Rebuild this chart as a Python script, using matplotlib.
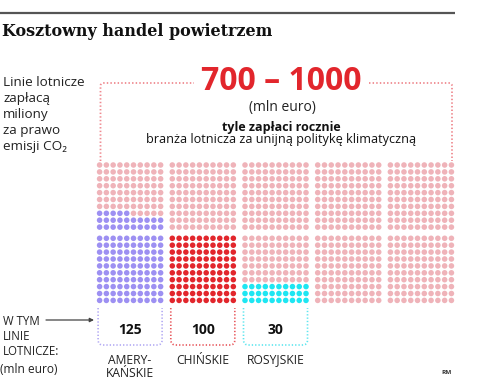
import matplotlib
matplotlib.use("Agg")
import matplotlib.pyplot as plt
from matplotlib.path import Path
from matplotlib.patches import PathPatch
import numpy as np

# ---------------- data ----------------
title = "Kosztowny handel powietrzem"
range_low, range_high = 700, 1000
total_dots = 1000                       # 1 dot = 1 mln euro
categories = ["AMERY-\nKAŃSKIE", "CHIŃSKIE", "ROSYJSKIE"]
values = [125, 100, 30]
cat_colors = ["#9d90f2", "#e2262c", "#1ee6f2"]
box_colors = ["#b3aaf3", "#e8585d", "#5fe6ef"]
base_color = "#efb3b9"

plt.rcParams['font.family'] = ['Open Sans', 'DejaVu Sans']

fig = plt.figure(figsize=(4.88, 3.80), dpi=100)
ax = fig.add_axes([0, 0, 1, 1])
ax.set_xlim(0, 488)
ax.set_ylim(380, 0)
ax.axis('off')

# ---------------- waffle grid ----------------
n_block_cols, n_block_rows, side = 5, 2, 10
x0, y0 = 99.6, 165.0
bpx, bpy = 72.7, 73.3
dpx, dpy = 6.78, 6.9

xs, ys, cs = [], [], []
for b in range(n_block_cols):
    # fill order: bottom block first, bottom row upwards, left to right
    filled = values[b] if b < len(values) else 0
    color = cat_colors[b] if b < len(values) else base_color
    k = 0
    for r in [1, 0]:
        for d in range(side - 1, -1, -1):
            for c in range(side):
                xs.append(x0 + b * bpx + c * dpx)
                ys.append(y0 + r * bpy + d * dpy)
                cs.append(color if k < filled else base_color)
                k += 1
ax.scatter(xs, ys, s=16, c=cs, linewidths=0, zorder=3)

# ---------------- dotted bracket at top ----------------
br_col = "#ef8a90"
ls_dot = (0, (0.8, 1.2))
rr = 3
left_x, right_x, top_y, bot_y = 100.5, 452.0, 83, 161
verts = [(left_x, bot_y), (left_x, top_y + rr), (left_x, top_y), (left_x + rr, top_y), (194, top_y)]
codes = [Path.MOVETO, Path.LINETO, Path.CURVE3, Path.CURVE3, Path.LINETO]
ax.add_patch(PathPatch(Path(verts, codes), fill=False, edgecolor=br_col, lw=1.3, linestyle=ls_dot))
verts = [(369, top_y), (right_x - rr, top_y), (right_x, top_y), (right_x, top_y + rr), (right_x, bot_y)]
ax.add_patch(PathPatch(Path(verts, codes), fill=False, edgecolor=br_col, lw=1.3, linestyle=ls_dot))

# ---------------- category boxes ----------------
box_top, box_bot, rad = 308, 345, 5
for i, (cat, val) in enumerate(zip(categories, values)):
    bx0 = x0 + i * bpx - 1.5
    bx1 = x0 + i * bpx + 9 * dpx + 1.5
    verts = [(bx0, box_top), (bx0, box_bot - rad), (bx0, box_bot), (bx0 + rad, box_bot),
             (bx1 - rad, box_bot), (bx1, box_bot), (bx1, box_bot - rad), (bx1, box_top)]
    codes = [Path.MOVETO, Path.LINETO, Path.CURVE3, Path.CURVE3,
             Path.LINETO, Path.CURVE3, Path.CURVE3, Path.LINETO]
    ax.add_patch(PathPatch(Path(verts, codes), fill=False, edgecolor=box_colors[i],
                           lw=1.2, linestyle=ls_dot))
    cx = (bx0 + bx1) / 2
    ax.text(cx, 330, str(val), ha='center', va='center', fontsize=10,
            fontweight='bold', color='#111111')
    ax.text(cx, 353.5, cat, ha='center', va='top', fontsize=8.7, color='#222222',
            linespacing=1.08)

# ---------------- texts ----------------
ax.plot([0, 455], [13, 13], color='#555555', lw=1.6, solid_capstyle='butt')
ax.text(1.5, 32, title, family=['DejaVu Serif'], fontweight='bold', fontsize=11.5,
        ha='left', va='center', color='#111111')

ax.text(3, 76.5, "Linie lotnicze\nzapłacą\nmiliony\nza prawo\nemisji CO₂",
        ha='left', va='top', fontsize=9.7, color='#222222', linespacing=1.29)

ax.text(281, 82, f"{range_low} – {range_high}", ha='center', va='center',
        fontsize=23, fontweight='bold', color='#e2262c')
ax.text(282, 107, "(mln euro)", ha='center', va='center', fontsize=10, color='#222222')
ax.text(281, 127.5, "tyle zapłaci rocznie", ha='center', va='center', fontsize=9,
        fontweight='bold', color='#111111')
ax.text(281, 139, "branża lotnicza za unijną politykę klimatyczną", ha='center',
        va='center', fontsize=9.05, color='#111111')

ax.text(3, 315, "W TYM\nLINIE\nLOTNICZE:", ha='left', va='top', fontsize=8.3,
        color='#222222', linespacing=1.22)
ax.annotate("", xy=(94, 320), xytext=(46, 320),
            arrowprops=dict(arrowstyle='-|>', color='#444444', lw=0.9,
                            mutation_scale=6, shrinkA=0, shrinkB=0))
ax.text(0, 369.5, "(mln euro)", ha='left', va='center', fontsize=8.6, color='#222222')
ax.text(447, 372.5, "RM", ha='center', va='center', fontsize=4.6, fontweight='bold',
        color='#333333')

fig.savefig("out.png", dpi=100)
